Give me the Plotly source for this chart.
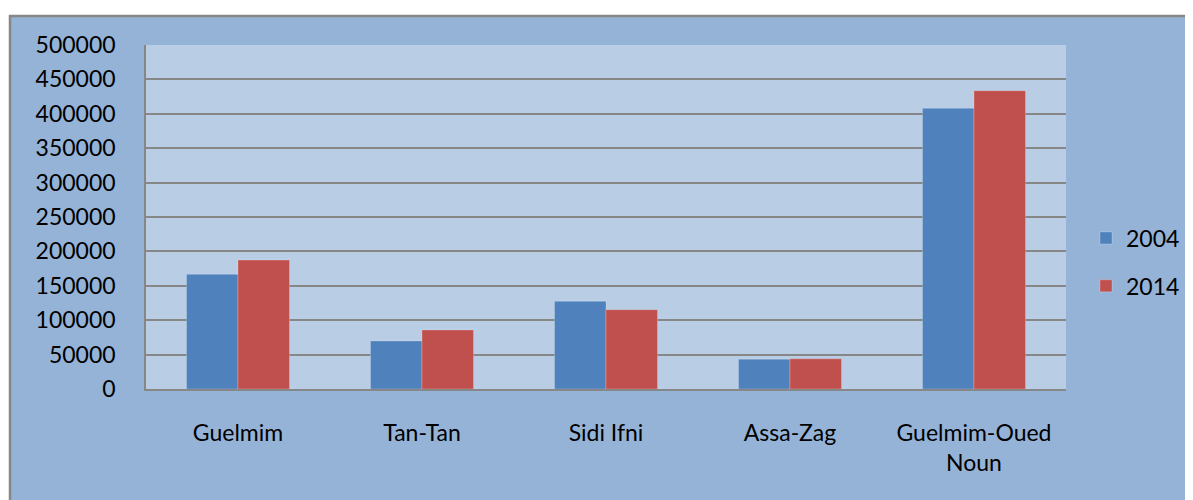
import plotly.graph_objects as go

categories = ["Guelmim", "Tan-Tan", "Sidi Ifni", "Assa-Zag", "Guelmim-Oued<br>Noun"]
values_2004 = [166700, 69800, 127500, 43400, 408000]
values_2014 = [187500, 85800, 115300, 43800, 433600]
y_ticks = [0, 50000, 100000, 150000, 200000, 250000, 300000, 350000, 400000, 450000, 500000]

FONT = "Lato"
fig = go.Figure()
fig.add_trace(go.Bar(x=categories, y=values_2004, name="2004", marker_color="#4F81BD",
                     marker_line=dict(width=1, color="rgba(255,255,255,0.22)"), legendgroup="a"))
fig.add_trace(go.Bar(x=categories, y=values_2014, name="2014", marker_color="#C0504D",
                     marker_line=dict(width=1, color="rgba(255,255,255,0.22)"), legendgroup="b"))

OFF = 8  # page body margin
W, H = 1230, 500 - OFF   # extra width is simply clipped by the window
L, T = 146 - OFF, 45 - OFF
R = W - (1066 - OFF)
B = H - (389 - OFF)
pw, ph = W - L - R, H - T - B

def px_x(p):
    return (p - OFF - L) / pw

def px_y(p):
    return (H - B - (p - OFF)) / ph

fig.update_layout(
    width=W, height=H,
    margin=dict(l=L, r=R, t=T, b=B),
    paper_bgcolor="white",
    plot_bgcolor="rgba(0,0,0,0)",
    barmode="group",
    bargap=0.44,
    bargroupgap=0,
    font=dict(family=FONT, size=23, color="black"),
    showlegend=True,
    legend=dict(x=px_x(1086), xanchor="left", y=px_y(262), yanchor="middle",
                traceorder="grouped", tracegroupgap=15, bgcolor="rgba(0,0,0,0)",
                itemwidth=30,
                font=dict(family=FONT, size=23, color="black")),
    shapes=[
        dict(type="rect", xref="paper", yref="paper", layer="below",
             x0=px_x(10), x1=px_x(1260), y0=px_y(520), y1=px_y(16),
             fillcolor="#95B3D7", line=dict(color="#878787", width=2.5)),
        dict(type="rect", xref="paper", yref="paper", layer="below",
             x0=0, x1=1, y0=0, y1=1, fillcolor="#B9CDE5", line=dict(width=0)),
    ],
)
fig.update_yaxes(range=[0, 500000], tickvals=y_ticks, ticktext=[str(v) for v in y_ticks],
                 showgrid=True, gridcolor="#878787", gridwidth=1.5,
                 showline=True, linecolor="#878787", linewidth=1.5,
                 zeroline=False, ticks="", ticklabelstandoff=24,
                 tickfont=dict(family=FONT, size=23, color="black"))
fig.update_xaxes(showgrid=False, showline=True, linecolor="#878787", linewidth=2,
                 ticks="", ticklabelstandoff=22,
                 tickfont=dict(family=FONT, size=23, color="black"))

fig.write_html("out.html")
